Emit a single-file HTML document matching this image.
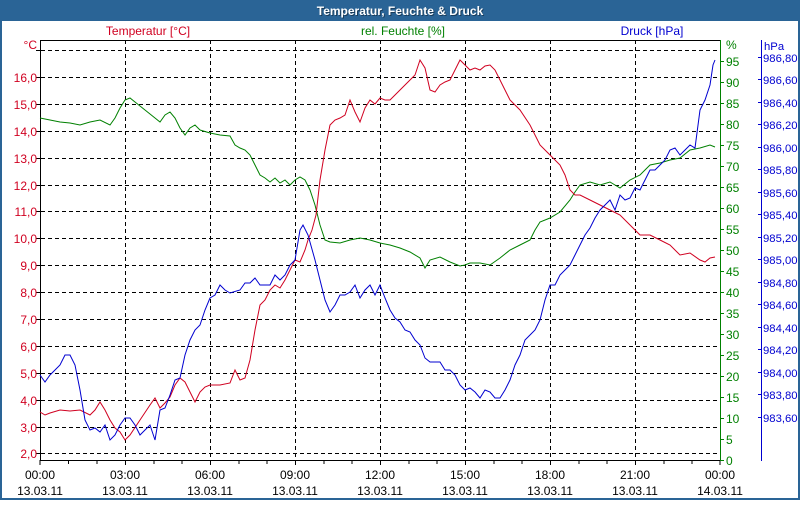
<!DOCTYPE html>
<html><head><meta charset="utf-8"><style>
body{margin:0;width:800px;height:500px;overflow:hidden;background:#fff;font-family:"Liberation Sans",sans-serif}
svg text{font-family:"Liberation Sans",sans-serif;font-size:12px}
svg .p text{font-size:11.3px}
</style></head><body>
<svg width="800" height="500" xmlns="http://www.w3.org/2000/svg">
<rect x="0" y="0" width="800" height="500" fill="#2a6496"/>
<rect x="2" y="21" width="796" height="477" fill="#fff"/>
<text x="400" y="15" text-anchor="middle" fill="#000" opacity="0.4" style="font-weight:bold;font-size:12px" transform="translate(1,1)">Temperatur, Feuchte &amp; Druck</text>
<text x="400" y="15" text-anchor="middle" fill="#fff" style="font-weight:bold;font-size:12px">Temperatur, Feuchte &amp; Druck</text>
<text x="148" y="35" text-anchor="middle" fill="#d00020">Temperatur [°C]</text>
<text x="403" y="35" text-anchor="middle" fill="#008000">rel. Feuchte [%]</text>
<text x="652" y="35" text-anchor="middle" fill="#0000d0">Druck [hPa]</text>
<g stroke="#000" stroke-dasharray="4,3" stroke-width="1">
<line x1="41" x2="720" y1="50.5" y2="50.5"/><line x1="41" x2="720" y1="77.5" y2="77.5"/><line x1="41" x2="720" y1="104.5" y2="104.5"/><line x1="41" x2="720" y1="131.5" y2="131.5"/><line x1="41" x2="720" y1="158.5" y2="158.5"/><line x1="41" x2="720" y1="185.5" y2="185.5"/><line x1="41" x2="720" y1="211.5" y2="211.5"/><line x1="41" x2="720" y1="238.5" y2="238.5"/><line x1="41" x2="720" y1="265.5" y2="265.5"/><line x1="41" x2="720" y1="292.5" y2="292.5"/><line x1="41" x2="720" y1="319.5" y2="319.5"/><line x1="41" x2="720" y1="346.5" y2="346.5"/><line x1="41" x2="720" y1="373.5" y2="373.5"/><line x1="41" x2="720" y1="400.5" y2="400.5"/><line x1="41" x2="720" y1="427.5" y2="427.5"/><line x1="41" x2="720" y1="453.5" y2="453.5"/>
<line y1="40" y2="460" x1="125.5" x2="125.5"/><line y1="40" y2="460" x1="210.5" x2="210.5"/><line y1="40" y2="460" x1="295.5" x2="295.5"/><line y1="40" y2="460" x1="380.5" x2="380.5"/><line y1="40" y2="460" x1="465.5" x2="465.5"/><line y1="40" y2="460" x1="550.5" x2="550.5"/><line y1="40" y2="460" x1="635.5" x2="635.5"/>
</g>
<line x1="40.5" x2="40.5" y1="40" y2="461" stroke="#000"/>
<line x1="40" x2="720" y1="40.5" y2="40.5" stroke="#000"/>
<line x1="40" x2="720" y1="460.5" y2="460.5" stroke="#000"/>
<g stroke="#000">
<path d="M40,460v5M68.5,460v4M97,460v4M125.5,460v5M154,460v4M182,460v4M210.5,460v5M239,460v4M267,460v4M295.5,460v5M324,460v4M352,460v4M380.5,460v5M409,460v4M437,460v4M465.5,460v5M494,460v4M522,460v4M550.5,460v5M579,460v4M607,460v4M635.5,460v5M664,460v4M692,460v4M720,460v5"/>
<path d="M36,50.5h4M36,77.5h4M36,104.5h4M36,131.5h4M36,158.5h4M36,185.5h4M36,211.5h4M36,238.5h4M36,265.5h4M36,292.5h4M36,319.5h4M36,346.5h4M36,373.5h4M36,400.5h4M36,427.5h4M36,453.5h4"/>
</g>
<line x1="720.5" x2="720.5" y1="40" y2="461" stroke="#008000"/>
<path stroke="#008000" d="M720,460.5h4M720,439.5h4M720,418.5h4M720,397.5h4M720,376.5h4M720,355.5h4M720,334.5h4M720,313.5h4M720,292.5h4M720,271.5h4M720,250.5h4M720,229.5h4M720,208.5h4M720,187.5h4M720,166.5h4M720,145.5h4M720,124.5h4M720,103.5h4M720,82.5h4M720,61.5h4"/>
<line x1="761.5" x2="761.5" y1="40" y2="461" stroke="#0000d0"/>
<path stroke="#0000d0" d="M758,417.5h4M758,394.5h4M758,372.5h4M758,349.5h4M758,327.5h4M758,304.5h4M758,282.5h4M758,259.5h4M758,237.5h4M758,214.5h4M758,192.5h4M758,169.5h4M758,147.5h4M758,124.5h4M758,102.5h4M758,79.5h4M758,57.5h4"/>
<g fill="#d00020" text-anchor="end">
<text x="37" y="49">°C</text>
<text x="37" y="82">16,0</text><text x="37" y="109">15,0</text><text x="37" y="136">14,0</text><text x="37" y="163">13,0</text><text x="37" y="190">12,0</text><text x="37" y="216">11,0</text><text x="37" y="243">10,0</text><text x="37" y="270">9,0</text><text x="37" y="297">8,0</text><text x="37" y="324">7,0</text><text x="37" y="351">6,0</text><text x="37" y="378">5,0</text><text x="37" y="405">4,0</text><text x="37" y="432">3,0</text><text x="37" y="458">2,0</text>
</g>
<g fill="#008000">
<text x="726" y="49">%</text>
<text x="726" y="465">0</text><text x="726" y="444">5</text><text x="726" y="423">10</text><text x="726" y="402">15</text><text x="726" y="381">20</text><text x="726" y="360">25</text><text x="726" y="339">30</text><text x="726" y="318">35</text><text x="726" y="297">40</text><text x="726" y="276">45</text><text x="726" y="255">50</text><text x="726" y="234">55</text><text x="726" y="213">60</text><text x="726" y="192">65</text><text x="726" y="171">70</text><text x="726" y="150">75</text><text x="726" y="129">80</text><text x="726" y="108">85</text><text x="726" y="87">90</text><text x="726" y="66">95</text>
</g>
<g fill="#0000d0" class="p">
<text x="764" y="50">hPa</text>
<text x="763" y="62">986,80</text><text x="763" y="84">986,60</text><text x="763" y="107">986,40</text><text x="763" y="129">986,20</text><text x="763" y="152">986,00</text><text x="763" y="174">985,80</text><text x="763" y="197">985,60</text><text x="763" y="219">985,40</text><text x="763" y="242">985,20</text><text x="763" y="264">985,00</text><text x="763" y="287">984,80</text><text x="763" y="309">984,60</text><text x="763" y="332">984,40</text><text x="763" y="354">984,20</text><text x="763" y="377">984,00</text><text x="763" y="399">983,80</text><text x="763" y="422">983,60</text>
</g>
<g fill="#000" text-anchor="middle">
<text x="40" y="479">00:00</text><text x="40" y="495">13.03.11</text>
<text x="125" y="479">03:00</text><text x="125" y="495">13.03.11</text>
<text x="210" y="479">06:00</text><text x="210" y="495">13.03.11</text>
<text x="295" y="479">09:00</text><text x="295" y="495">13.03.11</text>
<text x="380" y="479">12:00</text><text x="380" y="495">13.03.11</text>
<text x="465" y="479">15:00</text><text x="465" y="495">13.03.11</text>
<text x="550" y="479">18:00</text><text x="550" y="495">13.03.11</text>
<text x="635" y="479">21:00</text><text x="635" y="495">13.03.11</text>
<text x="720" y="479">00:00</text><text x="720" y="495">14.03.11</text>
</g>
<polyline fill="none" stroke="#008000" points="40,118 50,120 60,122 70,123 80,125 90,122 100,120 110,125 115,118 120,108 125,100 130,98 135,102 145,110 155,118 160,122 165,115 170,112 175,118 180,128 185,135 190,128 195,125 200,130 210,133 220,135 230,136 235,145 240,148 245,150 250,155 255,165 260,175 265,178 270,182 275,178 280,183 285,180 290,185 295,180 300,177 305,180 310,190 315,205 320,225 325,240 330,242 340,243 350,240 360,238 370,240 380,243 390,245 400,248 410,252 420,258 425,268 430,260 440,257 450,262 460,266 465,265 470,263 480,263 490,265 500,258 510,250 520,245 530,240 535,230 540,222 550,218 560,212 570,200 575,192 580,185 590,182 600,185 610,182 620,188 630,180 640,175 650,165 660,163 670,160 680,158 690,150 700,148 710,145 715,147"/>
<polyline fill="none" stroke="#d00020" points="40,412 45,415 50,413 60,410 70,411 80,410 90,415 95,410 100,402 105,410 110,420 115,428 120,432 125,440 130,435 140,420 150,405 155,398 160,408 165,403 170,397 175,385 180,378 185,382 190,392 195,402 200,392 205,387 210,385 220,385 230,383 235,370 240,380 245,378 250,360 255,330 260,305 265,300 270,290 275,285 280,288 285,280 290,270 295,260 300,262 305,250 308,240 312,230 316,215 320,180 325,150 330,125 335,120 340,118 345,115 350,100 355,112 360,122 365,108 370,100 375,104 380,98 385,100 390,100 395,95 400,90 405,85 410,80 415,75 420,60 425,68 430,90 435,92 440,85 445,82 450,80 455,70 460,60 465,65 470,70 475,68 480,70 485,66 490,65 495,70 500,80 505,90 510,100 520,110 530,125 540,145 550,155 560,165 565,175 570,190 575,195 580,195 590,200 600,205 610,210 620,215 630,225 640,235 650,235 660,240 670,245 680,255 690,253 700,260 705,262 710,258 715,257"/>
<polyline fill="none" stroke="#0000d0" points="40,375 45,382 50,375 55,370 60,365 65,355 70,355 75,365 80,390 85,420 90,430 95,428 100,432 105,425 110,440 115,435 120,425 125,418 130,418 135,425 140,435 145,430 150,425 155,440 160,410 165,408 170,395 175,380 180,378 185,355 190,340 195,330 200,325 205,310 210,298 215,295 220,285 225,290 230,293 240,290 245,283 250,283 255,278 260,285 265,285 270,285 275,275 280,280 285,275 290,265 295,260 300,230 303,225 308,235 315,260 320,280 325,300 330,312 335,305 340,295 345,295 350,292 355,285 360,298 365,290 370,285 375,295 380,285 385,298 390,310 395,318 400,322 405,330 410,332 415,340 420,345 425,358 430,362 440,362 445,370 450,370 455,375 460,385 465,390 470,388 475,392 480,398 485,390 490,392 495,398 500,398 505,390 510,380 515,365 520,355 525,340 530,335 535,330 540,320 545,300 550,285 555,285 560,275 565,270 570,265 575,255 580,245 585,235 590,228 595,218 600,210 605,205 610,200 615,210 620,195 625,200 630,198 635,188 640,190 645,180 650,170 655,170 660,165 665,160 670,150 675,148 680,155 685,150 690,145 695,148 700,110 705,100 710,85 713,65 715,60"/>
</svg>
</body></html>
